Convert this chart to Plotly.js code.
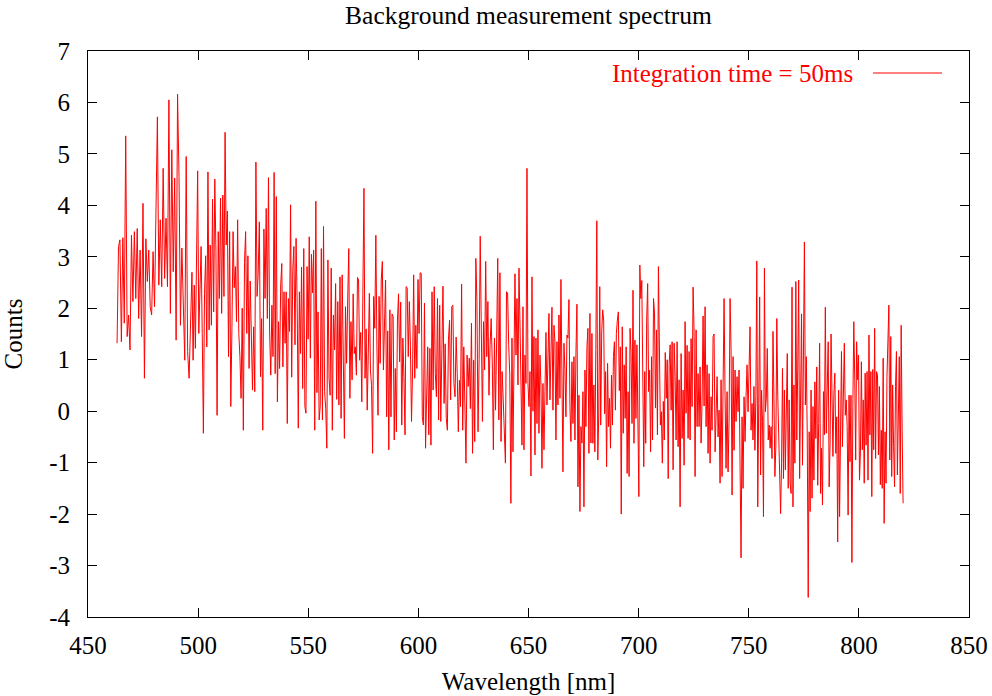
<!DOCTYPE html>
<html>
<head>
<meta charset="utf-8">
<script src="https://cdn.plot.ly/plotly-3.0.1.min.js"></script>
<style>
  html, body { margin: 0; padding: 0; background: #ffffff; }
  #chart { width: 992px; height: 696px; }
</style>
</head>
<body>
<div id="chart"></div>
<script>
// Wavelength boundaries [nm] of consecutive stretches of the spectrum (uniform sampling inside each)
const wavelengthBreaks = [463.2, 497.2, 533.5, 569.9, 606.2, 642.5, 678.8, 715.2, 751.5, 787.8, 820.5];

// Counts, stretch by stretch
const counts463 = [1.32,3.20,3.33,1.35,3.37,1.71,5.35,1.45,1.87,1.19,3.42,2.13,3.49,2.19,3.55,1.80,3.13,1.45,4.04,0.64,3.35,2.52,3.13,2.03,1.87,3.10,2.03,3.93,5.72,2.45,3.72,2.42,4.72,2.58,3.75,2.42,6.05,1.90,5.08,2.71,4.53,1.38,6.16,4.56,1.67,3.17,1.97,0.99,4.95,1.16,0.64,1.90];
const counts497 = [2.70,0.99,2.45,1.22,2.55,4.67,1.51,2.45,3.20,1.51,-0.43,2.29,3.02,1.25,4.65,1.58,3.23,1.67,4.12,1.93,4.51,3.10,-0.08,3.49,2.19,4.14,1.90,4.20,2.23,5.42,3.23,3.89,1.06,3.49,0.09,1.60,3.49,2.40,2.81,1.74,3.72,1.51,1.06,0.25,2.00,-0.37,2.89,3.49,1.51,3.02,0.83,2.53,1.16,0.41,1.64,0.38,4.84,2.23,2.68,3.68,0.67,1.80,-0.37,3.54,2.19,3.94,1.80,4.54,1.54,0.70];
const counts533 = [2.06,1.06,4.64,0.73,4.17,0.18,1.74,0.83,2.45,2.87,0.86,2.32,1.32,2.32,-0.24,2.19,1.55,4.01,0.66,2.74,3.20,1.29,3.36,2.10,-0.33,2.32,1.12,2.80,0.44,3.16,0.09,-0.04,2.81,1.40,3.39,1.03,3.05,2.30,3.13,-0.37,4.08,0.36,1.93,-0.17,0.09,3.16,-0.17,3.59,0.38,0.05,-0.72,2.94,0.64,0.31,2.78,-0.37,1.87,1.19,2.48,0.23,2.13,0.12,2.61,-0.14,2.65,0.73,-0.53,2.03,0.93,2.16,3.16,0.25,1.74];
const counts570 = [0.61,2.28,1.12,1.25,0.70,2.60,2.55,0.99,1.53,0.18,2.32,4.33,0.64,1.60,0.02,1.38,2.29,0.80,0.50,-0.82,2.23,1.61,3.42,1.25,-0.08,2.23,0.93,2.55,2.91,0.80,1.84,2.55,-0.11,1.56,-0.75,1.97,-0.11,1.89,1.84,-0.56,0.83,-0.40,1.77,2.28,0.96,2.12,-0.27,1.42,0.67,-0.46,2.42,2.40,1.06,2.13,1.25,-0.20,0.80,2.65,0.64,1.67,0.83,2.56,1.51,2.69,2.68,-0.11,-0.27,2.10,-0.72,0.09,1.25,-0.46,1.22,-0.66];
const counts606 = [2.32,0.41,2.42,0.73,0.28,2.19,-0.17,2.06,-0.20,1.20,2.43,0.15,1.31,-0.14,-0.37,1.40,1.77,0.22,2.03,2.06,0.54,0.28,1.44,0.73,-0.40,0.60,0.09,2.47,-0.37,1.25,-0.43,-1.01,1.09,0.48,1.03,0.05,1.71,-0.82,0.99,-0.59,2.97,2.13,-0.40,1.00,3.40,0.86,-0.20,1.74,0.80,2.91,1.06,2.13,0.31,1.29,1.80,0.96,-0.75,1.42,0.02,1.38,2.97,-0.17,2.69,-0.59,0.77,0.22,-0.37,-1.01,2.32,2.30,1.29,0.70,-1.79];
const counts643 = [1.42,-0.79,1.00,2.67,1.09,2.19,0.51,2.78,1.71,-0.11,-0.66,2.03,-0.75,1.09,0.54,4.72,0.54,0.09,0.77,-1.26,2.61,0.00,1.45,-0.85,1.42,-0.24,1.58,-0.43,1.09,0.50,-1.11,0.54,-0.75,0.38,1.53,0.12,1.03,1.90,0.22,1.19,2.02,0.02,1.67,1.35,-0.56,1.35,0.12,1.87,0.25,2.56,-0.30,-1.18,1.32,0.81,-0.11,1.48,1.42,2.17,0.09,-0.59,0.96,-0.24,1.06,-0.56,1.14,2.08,-1.47,0.31,-1.95,-0.30,-0.62,0.38,-1.86,0.80,-0.30,1.25,1.61,-0.82,1.90,-0.62];
const counts679 = [1.51,-0.625,0.51,-0.79,1.20,3.70,-0.95,-0.04,2.42,-0.27,1.54,1.97,1.77,-0.05,0.77,-1.08,0.93,-0.30,0.25,-0.72,0.70,-0.27,1.06,1.35,0.02,1.51,1.77,1.93,0.40,1.25,-2.00,1.64,-0.43,0.90,-0.14,1.25,-1.21,0.38,-1.27,1.61,1.12,-0.24,2.35,-0.625,1.38,-0.14,1.29,-0.11,-1.66,2.84,2.19,2.54,0.30,-1.08,0.77,-0.625,1.77,2.48,0.38,0.80,-0.79,1.06,-0.56,2.19,1.91,0.06,1.58,-0.46,2.81,0.74,-0.27,-0.01,-1.01,0.19,-0.56,1.14,0.25,1.00,-1.31,0.93,1.29,0.02];
const counts715 = [1.35,-1.14,1.32,0.67,-0.56,1.35,-0.69,0.61,-1.86,1.12,-0.53,0.41,-1.05,1.74,-0.04,1.28,-0.53,1.16,-0.56,1.41,0.09,2.41,1.55,-1.27,1.58,-0.30,0.73,-0.30,0.86,-0.62,0.20,1.85,0.10,2.03,-0.30,0.90,-0.82,0.73,-1.01,0.28,-0.37,1.45,1.50,-0.79,0.09,0.67,-0.50,0.02,-1.40,0.61,-1.27,0.77,2.19,0.28,-1.11,0.38,-1.18,-0.17,2.19,1.19,-1.63,1.06,-0.76,0.80,-0.20,0.67,-0.01,0.80,-1.50,-2.85,-0.11,-1.50,0.28,-0.59,0.28,0.90,-0.01,0.73,1.64,-0.37];
const counts752 = [0.15,-0.56,0.48,-0.76,0.30,2.92,-1.86,0.15,2.22,-1.24,0.41,-0.20,-2.05,2.78,-0.01,0.25,1.22,-0.56,-0.27,-0.72,-0.30,-0.92,1.55,0.28,-1.27,-0.69,1.80,0.31,-0.37,-1.00,-1.99,-1.01,0.83,-1.31,0.41,-1.14,0.38,1.12,-1.50,0.22,-1.40,-1.60,2.41,-1.86,0.51,-1.01,2.52,-0.56,0.86,2.55,-1.31,0.86,1.89,-1.05,1.74,3.29,0.12,1.06,-0.50,-3.62,-0.40,-1.95,0.41,-1.69,0.09,-1.34,0.57,-0.53,0.86,-1.44,-0.24,1.32,-1.60,-0.72,-1.82,0.38,-0.46,2.02,-0.43,0.41,1.35,-1.47,-0.62,1.50];
const counts788 = [0.15,-0.88,0.35,0.74,-0.82,-0.11,-2.54,0.41,-2.05,0.35,1.16,-0.69,0.31,1.32,-0.08,0.22,-0.30,-2.02,0.31,-0.98,0.31,-2.94,0.09,1.74,0.61,-0.95,1.35,0.61,1.09,-1.34,-0.79,0.96,-0.75,0.22,-1.40,0.74,-0.66,0.77,-1.34,1.48,-0.46,0.77,-1.66,0.81,-0.75,1.61,-0.92,0.77,0.70,-0.85,0.48,-1.43,-0.37,-1.50,1.03,-2.18,-0.40,-1.40,0.67,1.32,2.06,-0.95,1.45,-1.27,0.51,-0.69,-1.47,0.48,1.16,-1.24,0.15,1.06,-1.60,1.67,-0.37,-1.79];

const countSegments = [counts463, counts497, counts533, counts570, counts606, counts643, counts679, counts715, counts752, counts788];

// axis ticks (gnuplot style labels with an ASCII hyphen for negatives)
const yTickVals = [-4, -3, -2, -1, 0, 1, 2, 3, 4, 5, 6, 7];
const yTickText = ['-4', '-3', '-2', '-1', '0', '1', '2', '3', '4', '5', '6', '7'];
const xTickVals = [450, 500, 550, 600, 650, 700, 750, 800, 850];
const xTickText = ['450', '500', '550', '600', '650', '700', '750', '800', '850'];

const seriesName = 'Integration time = 50ms';
const chartTitle = 'Background measurement spectrum';
const xTitle = 'Wavelength [nm]';
const yTitle = 'Counts';

// assemble the sampled spectrum
const wl = [], cnt = [];
countSegments.forEach((seg, s) => {
  const a = wavelengthBreaks[s], b = wavelengthBreaks[s + 1];
  const step = (b - a) / seg.length;
  seg.forEach((v, i) => { wl.push(a + i * step); cnt.push(v); });
});

const FONT = '"Liberation Serif", "Times New Roman", Times, serif';

const trace = {
  x: wl, y: cnt, type: 'scatter', mode: 'lines',
  line: { color: '#ff0000', width: 1 },
  name: seriesName, showlegend: false, hoverinfo: 'skip'
};

const axisCommon = {
  ticks: 'inside', ticklen: 9, tickwidth: 1, tickcolor: '#000',
  showline: true, linecolor: '#000', linewidth: 1, mirror: 'ticks',
  showgrid: false, zeroline: false, tickmode: 'array',
  tickfont: { family: FONT, size: 25, color: '#000' }
};

const layout = {
  width: 992, height: 696,
  margin: { l: 88, r: 23, t: 51, b: 79, pad: 0 },
  paper_bgcolor: '#fff', plot_bgcolor: '#fff',
  font: { family: FONT, size: 25, color: '#000' },
  title: { text: chartTitle, x: 0.5, xref: 'paper', xanchor: 'center',
           y: 1 - 15 / 696, yref: 'container', yanchor: 'middle',
           font: { family: FONT, size: 25.5, color: '#000' } },
  xaxis: Object.assign({}, axisCommon, {
    range: [450, 850], tickvals: xTickVals, ticktext: xTickText, ticklabelstandoff: 6,
    title: { text: xTitle, standoff: 14, font: { family: FONT, size: 25, color: '#000' } }
  }),
  yaxis: Object.assign({}, axisCommon, {
    range: [-4, 7], tickvals: yTickVals, ticktext: yTickText, ticklabelstandoff: 12,
    title: { text: yTitle, standoff: 22, font: { family: FONT, size: 25, color: '#000' } }
  }),
  annotations: [{
    text: seriesName, xref: 'paper', yref: 'paper',
    x: (855 - 88) / 881, y: (617 - 73) / 566, xanchor: 'right', yanchor: 'middle',
    showarrow: false, font: { family: FONT, size: 25, color: '#ff0000' }
  }],
  shapes: [{
    type: 'line', xref: 'paper', yref: 'paper',
    x0: (873 - 88) / 881, x1: (942 - 88) / 881,
    y0: (617 - 73) / 566, y1: (617 - 73) / 566,
    line: { color: '#ff0000', width: 1 }
  }]
};

Plotly.newPlot('chart', [trace], layout, { displayModeBar: false, staticPlot: true });
</script>
</body>
</html>
